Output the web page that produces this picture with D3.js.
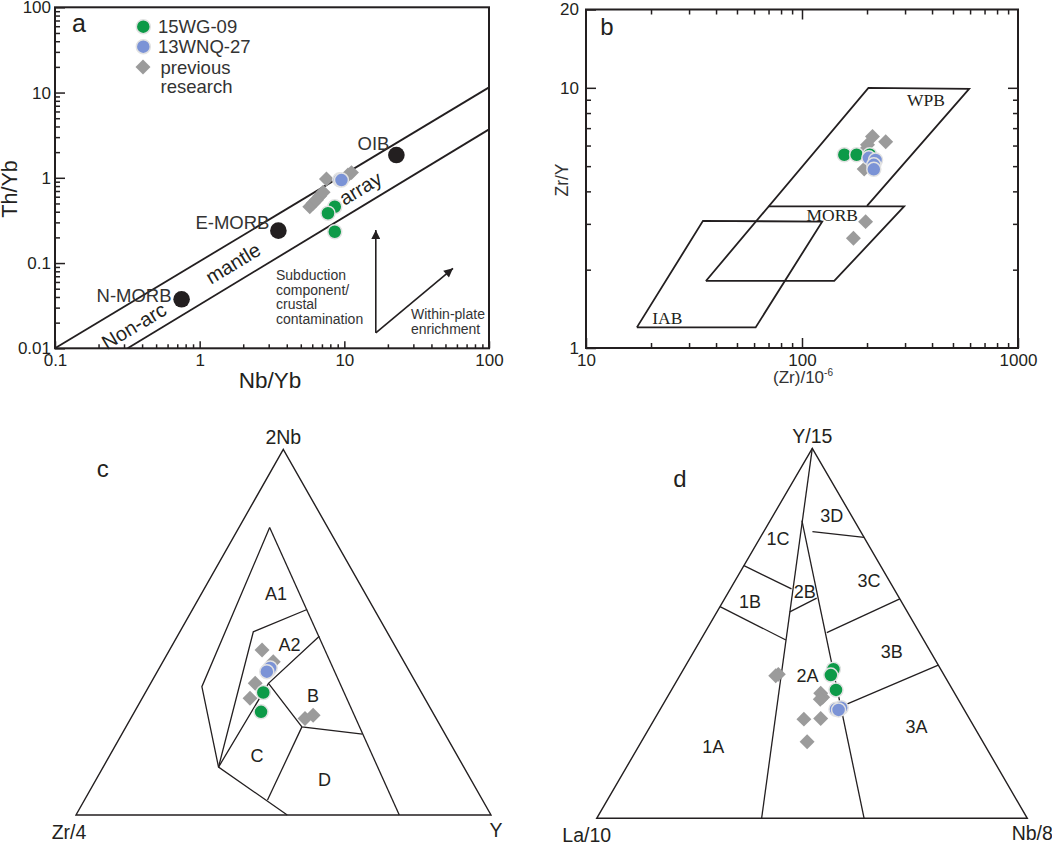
<!DOCTYPE html>
<html>
<head>
<meta charset="utf-8">
<script src="https://cdn.jsdelivr.net/npm/d3@7"></script>
<style>
  body { margin: 0; background: #fff; }
  svg { display: block; font-family: "Liberation Sans", Arial, sans-serif; }
  .tick text { font-size: 17px; fill: #231f20; }
  .tick line { stroke: #231f20; stroke-width: 1.5; }
</style>
</head>
<body>
<svg id="chart" width="1052" height="842"></svg>
<script>
// Colours of the three sample groups.
const colWG = '#0d9a48';
const colWNQ = '#7b93d6';
const colPrev = '#9b9b9b';
const ink = '#231f20';

// ---- Panel a : Th/Yb vs Nb/Yb ----
const aXTicks = [0.1, 1, 10, 100];
const aXTickLabels = ['0.1', '1', '10', '100'];
const aYTicks = [0.01, 0.1, 1, 10, 100];
const aYTickLabels = ['0.01', '0.1', '1', '10', '100'];
const aRefNames = ['N-MORB', 'E-MORB', 'OIB'];
const aRefValues = [[0.75, 0.0376], [3.5, 0.24], [22.9, 1.85]];
const aArrayUpper = [[0.1, 0.01], [100, 11.5]];
const aArrayLower = [[0.318, 0.01], [100, 3.7]];
const aArrayWords = ['Non-arc', 'mantle', 'array'];
const aArrayWordPos = [[0.351, 0.0183], [1.70, 0.0993], [12.9, 0.753]];
const aArrowFrom = [16.5, 0.0152];
const aArrowUp = [16.5, 0.244];
const aArrowDiag = [56.4, 0.0867];
const aWG09 = [[8.59, 0.458], [7.71, 0.384], [8.59, 0.233]];
const aWNQ27 = [[9.3, 0.95], [9.55, 0.94]];
const aPrevious = [[5.77, 0.458], [6.08, 0.502], [6.41, 0.549], [6.76, 0.612],
  [7.13, 0.676], [7.52, 0.97], [10.6, 1.08], [11.2, 1.15]];
const legendNames = ['15WG-09', '13WNQ-27', 'previous', 'research'];

// ---- Panel b : Zr/Y vs Zr ----
const bXTicks = [10, 100, 1000];
const bXTickLabels = ['10', '100', '1000'];
const bYTicks = [1, 10, 20];
const bYTickLabels = ['1', '10', '20'];
const bFieldNames = ['WPB', 'MORB', 'IAB'];
const bFieldLines = [
  [[35.9, 1.81], [203, 10], [594, 9.9], [200, 3.52]],
  [[70, 3.5], [297, 3.5], [141, 1.81], [35.9, 1.81]],
  [[17.2, 1.2], [34.8, 3.08], [124, 3.06], [61, 1.2], [17.2, 1.2]],
];
const bFieldLabelPos = [[375, 8.98], [138, 3.24], [23.8, 1.30]];
const bWG09 = [[157, 5.53], [179, 5.53], [206, 5.53]];
const bWNQ27 = [[204, 5.38], [219, 5.28], [215, 5.06], [215, 4.86]];
const bPrevious = [[212, 6.5], [244, 6.21], [201, 6.04], [190, 5.61],
  [194, 4.87], [197, 3.06], [173, 2.64]];

// ---- Panel c : 2Nb - Zr/4 - Y (values as [2Nb, Zr/4, Y] %) ----
const cVertexNames = ['2Nb', 'Zr/4', 'Y'];
const cFieldLines = [
  [[78.6, 14.0, 7.4], [0, 22.1, 77.9]],
  [[78.6, 14.0, 7.4], [35.1, 52.1, 12.8], [13.1, 59.1, 27.8], [0, 49.1, 50.9]],
  [[56.2, 16.2, 27.6], [50.1, 32.2, 17.7], [13.1, 59.1, 27.8]],
  [[13.1, 59.1, 27.8], [36.0, 35.6, 28.4], [48.9, 16.9, 34.2]],
  [[36.0, 35.6, 28.4], [24.1, 33.5, 42.4], [22.1, 19.9, 58.0]],
  [[24.1, 33.5, 42.4], [4.1, 51.8, 44.1]],
];
const cFieldNames = ['A1', 'A2', 'B', 'C', 'D'];
const cFieldLabelPos = [[60.7, 21.4, 17.9], [46.7, 25.2, 28.1], [32.8, 26.5, 40.7],
  [16.4, 48.2, 35.4], [9.8, 35.2, 55.0]];
const cWG09 = [[33.5, 38.1, 28.4], [28.2, 41.3, 30.5]];
const cWNQ27 = [[39.6, 33.8, 26.6], [40.2, 33.1, 26.7], [39.2, 34.4, 26.4]];
const cPrevious = [[45.1, 32.6, 22.3], [41.9, 31.5, 26.6], [36.0, 38.8, 25.2],
  [31.9, 42.1, 26.0], [26.4, 31.6, 42.0], [27.3, 29.2, 43.5]];

// ---- Panel d : Y/15 - La/10 - Nb/8 (values as [Y/15, La/10, Nb/8] %) ----
const dVertexNames = ['Y/15', 'La/10', 'Nb/8'];
const dFieldLines = [
  [[100, 0, 0], [0, 61.7, 38.3]],
  [[80.6, 12.2, 7.4], [0, 37.9, 62.1]],
  [[68.3, 31.7, 0], [62.0, 23.8, 14.2]],
  [[57.2, 42.8, 0], [48.2, 32.0, 19.8]],
  [[55.8, 27.3, 16.9], [59.5, 19.2, 21.3]],
  [[77.5, 11.2, 11.3], [75.9, 0, 24.1]],
  [[50.2, 21.5, 28.3], [59.3, 0, 40.7]],
  [[30.2, 28.2, 41.6], [41.4, 0, 58.6]],
];
const dFieldNames = ['1A', '1B', '1C', '2A', '2B', '3A', '3B', '3C', '3D'];
const dFieldLabelPos = [[19.5, 63.2, 17.3], [58.7, 35.1, 6.2], [75.9, 20.1, 4.2],
  [38.5, 31.8, 29.7], [61.2, 21.1, 17.7], [24.9, 13.3, 61.8], [45.0, 9.0, 46.0],
  [64.2, 4.7, 31.1], [81.7, 4.6, 13.7]];
const dWG09 = [[40.3, 24.9, 34.8], [38.7, 26.3, 35.0], [34.7, 27.1, 38.2]];
const dWNQ27 = [[29.5, 29.7, 40.8], [29.9, 28.3, 41.8], [29.3, 29.2, 41.5]];
const dPrevious = [[38.9, 38.4, 22.7], [38.5, 39.2, 22.3], [33.8, 31.1, 35.1],
  [32.7, 31.2, 36.1], [32.2, 32.0, 35.8], [26.8, 38.5, 34.7], [27.0, 34.5, 38.5],
  [20.7, 40.8, 38.5]];

const svg = d3.select('#chart');
svg.append('rect').attr('width', 1052).attr('height', 842).attr('fill', '#fff');

svg.append('defs').append('marker')
  .attr('id', 'arrowhead')
  .attr('viewBox', '0 0 10 10')
  .attr('refX', 10)
  .attr('refY', 5)
  .attr('markerWidth', 13)
  .attr('markerHeight', 9)
  .attr('markerUnits', 'userSpaceOnUse')
  .attr('orient', 'auto')
  .append('path')
  .attr('d', 'M0,0L10,5L0,10z')
  .attr('fill', ink);

const isDecade = (d) => Math.abs(Math.log10(d) - Math.round(Math.log10(d))) < 1e-6;
const line = d3.line();

function circles(g, data, pos, color) {
  g.selectAll(null).data(data).join('circle')
    .attr('cx', (d) => pos(d)[0])
    .attr('cy', (d) => pos(d)[1])
    .attr('r', 7)
    .attr('fill', color)
    .attr('stroke', '#e2e2e2')
    .attr('stroke-width', 1.5);
}

function diamonds(g, data, pos) {
  const sym = d3.symbol().type(d3.symbolSquare).size(112);
  g.selectAll(null).data(data).join('path')
    .attr('d', sym)
    .attr('transform', (d) => `translate(${pos(d)}) rotate(45)`)
    .attr('fill', colPrev);
}

// Draws one axis with labelled major ticks and unlabelled minor ticks.
function tickAxis(g, axisFn, scale, major, labels, minor, majorLen, minorLen, pad) {
  const gMinor = g.append('g').call(axisFn(scale).tickValues(minor)
    .tickSizeInner(-minorLen).tickSizeOuter(0).tickFormat(''));
  const gMajor = g.append('g').call(axisFn(scale).tickValues(major)
    .tickSizeInner(-majorLen).tickSizeOuter(0).tickPadding(pad)
    .tickFormat((d, i) => (labels ? labels[i] : '')));
  gMinor.select('.domain').remove();
  gMajor.select('.domain').remove();
  return gMajor;
}

// ================= Panel a =================
const ax = d3.scaleLog().domain([0.1, 100]).range([55, 489]);
const ay = d3.scaleLog().domain([0.01, 100]).range([348.3, 7.3]);
const aPos = (d) => [ax(d[0]), ay(d[1])];
const ga = svg.append('g');

const aMinorX = ax.ticks().filter((d) => !isDecade(d));
const aMinorY = ay.ticks().filter((d) => !isDecade(d));
tickAxis(ga.append('g').attr('transform', `translate(0,${ay.range()[0]})`),
  d3.axisBottom, ax, aXTicks, aXTickLabels, aMinorX, 7, 4, 6);
tickAxis(ga.append('g').attr('transform', `translate(${ax.range()[0]},0)`),
  d3.axisLeft, ay, aYTicks, aYTickLabels, aMinorY, 10, 5, 4);

ga.append('path').attr('d', line(aArrayUpper.map(aPos)))
  .attr('stroke', ink).attr('stroke-width', 1.8).attr('fill', 'none');
ga.append('path').attr('d', line(aArrayLower.map(aPos)))
  .attr('stroke', ink).attr('stroke-width', 1.8).attr('fill', 'none');

ga.selectAll(null).data(aArrayWords).join('text')
  .attr('transform', (d, i) => `translate(${aPos(aArrayWordPos[i])}) rotate(-31)`)
  .attr('text-anchor', 'middle')
  .attr('dy', '0.35em')
  .attr('font-size', 20)
  .attr('fill', ink)
  .text((d) => d);

ga.selectAll(null).data(aRefValues).join('circle')
  .attr('cx', (d) => aPos(d)[0])
  .attr('cy', (d) => aPos(d)[1])
  .attr('r', 8.3)
  .attr('fill', ink);
const aRefLabelShift = [[-10, 2.5], [-9, -1.4], [-7, -5]];
ga.selectAll(null).data(aRefNames).join('text')
  .attr('x', (d, i) => aPos(aRefValues[i])[0] + aRefLabelShift[i][0])
  .attr('y', (d, i) => aPos(aRefValues[i])[1] + aRefLabelShift[i][1])
  .attr('text-anchor', 'end')
  .attr('font-size', 18.5)
  .attr('fill', '#333')
  .text((d) => d);

diamonds(ga, aPrevious, aPos);
circles(ga, aWG09, aPos, colWG);
circles(ga, aWNQ27, aPos, colWNQ);

// arrows
[aArrowUp, aArrowDiag].forEach((end) => {
  ga.append('path').attr('d', line([aPos(aArrowFrom), aPos(end)]))
    .attr('stroke', ink).attr('stroke-width', 1.6).attr('fill', 'none')
    .attr('marker-end', 'url(#arrowhead)');
});
const subText = ['Subduction', 'component/', 'crustal', 'contamination'];
ga.selectAll(null).data(subText).join('text')
  .attr('x', 276)
  .attr('y', (d, i) => 280 + i * 14.6)
  .attr('font-size', 14)
  .attr('fill', '#333')
  .text((d) => d);
ga.selectAll(null).data(['Within-plate', 'enrichment']).join('text')
  .attr('x', 411)
  .attr('y', (d, i) => 319 + i * 15)
  .attr('font-size', 14)
  .attr('fill', '#333')
  .text((d) => d);

ga.append('rect').attr('x', 55).attr('y', 7.3).attr('width', 434).attr('height', 341)
  .attr('fill', 'none').attr('stroke', ink).attr('stroke-width', 2);

// legend
const lg = ga.append('g');
circles(lg, [[0, 0]], () => [143.3, 26.7], colWG);
circles(lg, [[0, 0]], () => [143.3, 46.7], colWNQ);
diamonds(lg, [[0, 0]], () => [143, 67]);
lg.selectAll(null).data(legendNames).join('text')
  .attr('x', (d, i) => (i < 2 ? 158 : 160.5))
  .attr('y', (d, i) => [32.7, 52.7, 74, 92.7][i])
  .attr('font-size', 18.5)
  .attr('fill', '#333')
  .text((d) => d);

ga.append('text').attr('x', 79).attr('y', 31.7).attr('text-anchor', 'middle')
  .attr('font-size', 25).attr('fill', ink).text('a');
ga.append('text').attr('transform', 'translate(17,189) rotate(-90)')
  .attr('text-anchor', 'middle').attr('font-size', 21.5).attr('fill', ink).text('Th/Yb');
ga.append('text').attr('x', 270).attr('y', 388).attr('text-anchor', 'middle')
  .attr('font-size', 22.5).attr('fill', ink).text('Nb/Yb');

// ================= Panel b =================
const bx = d3.scaleLog().domain([10, 1000]).range([586, 1018]);
const by = d3.scaleLog().domain([1, 20]).range([348, 9.5]);
const bPos = (d) => [bx(d[0]), by(d[1])];
const gb = svg.append('g');

const bMinorX = bx.ticks().filter((d) => !isDecade(d));
const bMinorY = by.ticks().filter((d) => !isDecade(d) && d < 10);
const bMajorX = [100];
const bMajorY = [10];
tickAxis(gb.append('g').attr('transform', `translate(0,${by.range()[0]})`),
  d3.axisBottom, bx, bXTicks, bXTickLabels, bMinorX, 10, 5, 6);
tickAxis(gb.append('g').attr('transform', `translate(0,${by.range()[1]})`),
  d3.axisTop, bx, bMajorX, null, bMinorX, 10, 5, 3);
tickAxis(gb.append('g').attr('transform', `translate(${bx.range()[0]},0)`),
  d3.axisLeft, by, bYTicks, bYTickLabels, bMinorY, 10, 5, 7);
tickAxis(gb.append('g').attr('transform', `translate(${bx.range()[1]},0)`),
  d3.axisRight, by, bMajorY, null, bMinorY, 10, 5, 3);

gb.selectAll(null).data(bFieldLines).join('path')
  .attr('d', (d) => line(d.map(bPos)))
  .attr('fill', 'none')
  .attr('stroke', ink)
  .attr('stroke-width', 1.8)
  .attr('stroke-linejoin', 'miter');
gb.selectAll(null).data(bFieldNames).join('text')
  .attr('x', (d, i) => bPos(bFieldLabelPos[i])[0])
  .attr('y', (d, i) => bPos(bFieldLabelPos[i])[1])
  .attr('dy', '0.35em')
  .attr('text-anchor', 'middle')
  .attr('font-family', '"Liberation Serif", "Times New Roman", serif')
  .attr('font-size', 17.5)
  .attr('fill', ink)
  .text((d) => d);

diamonds(gb, bPrevious, bPos);
circles(gb, bWG09, bPos, colWG);
circles(gb, bWNQ27, bPos, colWNQ);

gb.append('rect').attr('x', 586).attr('y', 9.5).attr('width', 432).attr('height', 338.5)
  .attr('fill', 'none').attr('stroke', ink).attr('stroke-width', 2);
gb.append('text').attr('x', 607).attr('y', 35).attr('text-anchor', 'middle')
  .attr('font-size', 24).attr('fill', ink).text('b');
gb.append('text').attr('transform', 'translate(568,180) rotate(-90)')
  .attr('text-anchor', 'middle').attr('font-size', 17.5).attr('fill', '#333').text('Zr/Y');
const bxl = gb.append('text').attr('x', 803).attr('y', 383).attr('text-anchor', 'middle')
  .attr('font-size', 17).attr('fill', '#333');
bxl.append('tspan').text('(Zr)/10');
bxl.append('tspan').attr('font-size', 10).attr('dy', -7).text('-6');

// ================= Ternary panels =================
function ternary(T, L, R) {
  const frac = d3.scaleLinear().domain([0, 100]).range([0, 1]);
  return (d) => {
    const s = d[0] + d[1] + d[2];
    const a = frac((d[0] * 100) / s);
    const c = frac((d[2] * 100) / s);
    const b = 1 - a - c;
    return [T[0] * a + L[0] * b + R[0] * c, T[1] * a + L[1] * b + R[1] * c];
  };
}

function ternaryPanel(opts) {
  const pos = ternary(opts.T, opts.L, opts.R);
  const g = svg.append('g');
  g.append('path')
    .attr('d', `${line([[100, 0, 0], [0, 100, 0], [0, 0, 100]].map(pos))}Z`)
    .attr('fill', 'none').attr('stroke', ink).attr('stroke-width', 1.4);
  g.selectAll(null).data(opts.lines).join('path')
    .attr('d', (d) => line(d.map(pos)))
    .attr('fill', 'none').attr('stroke', ink).attr('stroke-width', 1.3);
  g.selectAll(null).data(opts.fieldNames).join('text')
    .attr('x', (d, i) => pos(opts.fieldPos[i])[0])
    .attr('y', (d, i) => pos(opts.fieldPos[i])[1])
    .attr('dy', '0.36em')
    .attr('text-anchor', 'middle')
    .attr('font-size', 18)
    .attr('fill', ink)
    .text((d) => d);
  diamonds(g, opts.prev, pos);
  circles(g, opts.wg, pos, colWG);
  circles(g, opts.wnq, pos, colWNQ);
  const vShift = [[0, -5.5], [-7, 23.5], [5, 21.5]];
  const vx = [opts.T, opts.L, opts.R];
  g.selectAll(null).data(opts.vertexNames).join('text')
    .attr('x', (d, i) => vx[i][0] + vShift[i][0] + (opts.vdx ? opts.vdx[i] : 0))
    .attr('y', (d, i) => vx[i][1] + vShift[i][1])
    .attr('text-anchor', 'middle')
    .attr('font-size', 19.5)
    .attr('fill', ink)
    .text((d) => d);
  g.append('text').attr('x', opts.tag[1]).attr('y', opts.tag[2])
    .attr('text-anchor', 'middle').attr('font-size', 24).attr('fill', ink).text(opts.tag[0]);
}

ternaryPanel({
  T: [283.3, 449.3], L: [76, 815], R: [491, 815],
  lines: cFieldLines, fieldNames: cFieldNames, fieldPos: cFieldLabelPos,
  wg: cWG09, wnq: cWNQ27, prev: cPrevious,
  vertexNames: cVertexNames, vdx: [0, 0, 0], tag: ['c', 102.7, 477.3],
});

ternaryPanel({
  T: [812.3, 448.3], L: [596.7, 818.3], R: [1027.3, 818.3],
  lines: dFieldLines, fieldNames: dFieldNames, fieldPos: dFieldLabelPos,
  wg: dWG09, wnq: dWNQ27, prev: dPrevious,
  vertexNames: dVertexNames, vdx: [0, -3, 0], tag: ['d', 680, 486.7],
});
</script>
</body>
</html>
